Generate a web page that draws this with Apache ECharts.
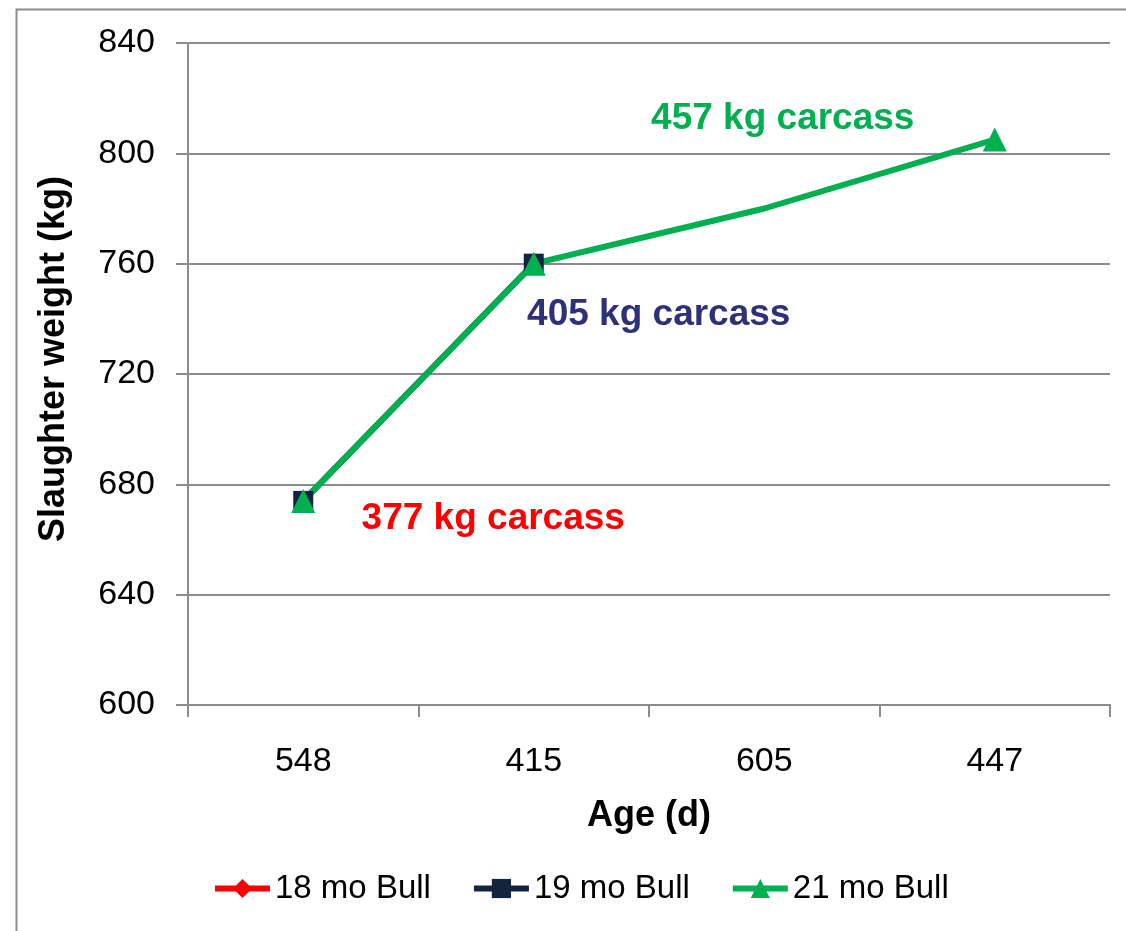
<!DOCTYPE html>
<html>
<head>
<meta charset="utf-8">
<script src="https://cdn.jsdelivr.net/npm/echarts@6/dist/echarts.min.js"></script>
<style>
html,body{margin:0;padding:0;background:#fff;}
#chart{width:1126px;height:931px;}
</style>
</head>
<body>
<div id="chart"></div>
<script>
// Data
const categories = ['548', '415', '605', '447'];
const bull18 = [674, null, null, null];
const bull19 = [674, 760, null, null];
const bull21 = [674, 760, 780, 805];
const seriesNames = ['18 mo Bull', '19 mo Bull', '21 mo Bull'];
const annotations = ['377 kg carcass', '405 kg carcass', '457 kg carcass'];
const yTicks = { min: 600, max: 840, interval: 40 };

const RED = '#FF0000', NAVY = '#14233F', GREEN = '#00B050', NAVY_TXT = '#2E3078';
const GRAY = '#8C8C8C';
const annStyle = { show: true, position: 'inside', fontFamily: 'Liberation Sans', fontWeight: 'bold', fontSize: 37 };

const chart = echarts.init(document.getElementById('chart'), null, { renderer: 'canvas' });

const redData = bull18.map((v, i) => i === 0 ? { value: v, label: Object.assign({}, annStyle, { color: RED, offset: [190, 18], formatter: annotations[0] }) } : v);
const navyData = bull19.map((v, i) => i === 1 ? { value: v, label: Object.assign({}, annStyle, { color: NAVY_TXT, offset: [125, 51], formatter: annotations[1] }) } : v);
const greenData = bull21.map((v, i) => {
  if (i === 2) return { value: v, symbol: 'none' };
  if (i === 3) return { value: v, label: Object.assign({}, annStyle, { color: GREEN, offset: [-212, -21], formatter: annotations[2] }) };
  return v;
});

chart.setOption({
  animation: false,
  backgroundColor: '#fff',
  graphic: [{
    type: 'rect', left: 14, top: 7, z: -10,
    shape: { width: 1200, height: 1000 },
    style: { fill: 'none', stroke: GRAY, lineWidth: 2 }
  }],
  grid: { left: 188, top: 43, right: 16, bottom: 226 },
  legend: {
    data: seriesNames,
    top: 872, left: 212, padding: 0,
    itemWidth: 55, itemHeight: 24, itemGap: 40,
    lineStyle: { width: 6 },
    textStyle: { fontFamily: 'Liberation Sans', fontSize: 33, color: '#000', padding: [0, 0, 0, 0] }
  },
  xAxis: {
    type: 'category',
    data: categories,
    boundaryGap: true,
    name: 'Age (d)',
    nameLocation: 'middle',
    nameGap: 93,
    nameTextStyle: { fontFamily: 'Liberation Sans', fontWeight: 'bold', fontSize: 36, color: '#000' },
    axisLine: { show: true, lineStyle: { color: GRAY, width: 2 } },
    axisTick: { show: true, alignWithLabel: false, interval: 0, length: 12, lineStyle: { color: GRAY, width: 2 } },
    axisLabel: { fontFamily: 'Liberation Sans', fontSize: 34, color: '#000', margin: 40 }
  },
  yAxis: {
    type: 'value',
    min: yTicks.min, max: yTicks.max, interval: yTicks.interval,
    name: 'Slaughter weight (kg)',
    nameLocation: 'middle',
    nameGap: 116,
    nameTextStyle: { fontFamily: 'Liberation Sans', fontWeight: 'bold', fontSize: 36, color: '#000', padding: [0, 0, 0, 30] },
    axisLine: { show: true, lineStyle: { color: GRAY, width: 2 } },
    axisTick: { show: true, length: 12, lineStyle: { color: GRAY, width: 2 } },
    axisLabel: { fontFamily: 'Liberation Sans', fontSize: 34, color: '#000', margin: 33 },
    splitLine: { show: true, lineStyle: { color: GRAY, width: 2 } }
  },
  series: [
    {
      name: seriesNames[0], type: 'line', data: redData,
      symbol: 'diamond', symbolSize: 16,
      lineStyle: { color: RED, width: 6 }, itemStyle: { color: RED },
      connectNulls: false
    },
    {
      name: seriesNames[1], type: 'line', data: navyData,
      symbol: 'rect', symbolSize: 20,
      lineStyle: { color: NAVY, width: 6 }, itemStyle: { color: NAVY }
    },
    {
      name: seriesNames[2], type: 'line', data: greenData,
      symbol: 'triangle', symbolSize: 24,
      lineStyle: { color: GREEN, width: 6 }, itemStyle: { color: GREEN }
    }
  ]
});
</script>
</body>
</html>
